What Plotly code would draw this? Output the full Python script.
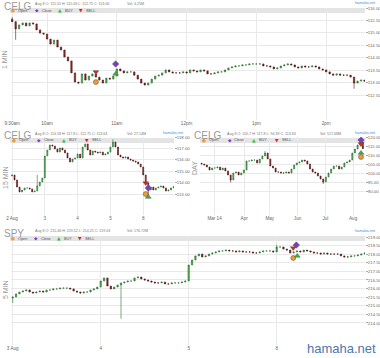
import plotly.graph_objects as go

W, H = 380, 358

# ---------------- Panel 1: CELG 1 MIN (Aug 8), one candle per 3 minutes from 9:30 ----------------
p1_minutes = list(range(0, 306, 3))
p1_close = [115.45, 115.16, 115.32, 115.40, 115.28, 115.40, 115.36, 115.12, 114.99, 114.95,
            114.75, 114.55, 114.71, 114.43, 114.31, 114.03, 113.87, 113.39, 113.02, 112.98,
            113.35, 113.10, 113.26, 113.35, 113.22, 113.10, 112.98, 113.18, 113.14, 113.26,
            113.55, 113.47, 113.39, 113.43, 113.43, 113.30, 113.14, 112.98, 112.90, 112.98,
            113.14, 113.26, 113.30, 113.39, 113.51, 113.43, 113.39, 113.39, 113.39, 113.43,
            113.39, 113.51, 113.47, 113.43, 113.51, 113.47, 113.35, 113.35, 113.39, 113.43,
            113.43, 113.51, 113.59, 113.63, 113.67, 113.67, 113.71, 113.71, 113.75, 113.75,
            113.75, 113.75, 113.67, 113.67, 113.63, 113.55, 113.59, 113.67, 113.71, 113.75,
            113.71, 113.63, 113.59, 113.67, 113.63, 113.63, 113.67, 113.63, 113.55, 113.51,
            113.43, 113.35, 113.30, 113.35, 113.30, 113.30, 113.30, 113.22, 112.98, 113.06,
            113.10, 113.06]
p1_first_open = 115.55
p1_high_marks = {0: 115.63}
p1_low_marks = {1: 114.72, 98: 112.75}
p1_ticks = [0, 30, 90, 150, 210, 270]
p1_ticklabels = ["9:30am", "10am", "11am", "12pm", "1pm", "2pm"]
p1_yticks = [112.5, 113.0, 113.5, 114.0, 114.5, 115.0, 115.5, 116.0]
p1_sig_x = [72, 89, 89, 72]            # Open, Close, BUY, SELL
p1_sig_y = [113.02, 113.75, 113.35, 113.43]

# ---------------- Panel 2: CELG 15 MIN, one candle per 30 minutes, Aug 2 .. Aug 8 ----------------
p2_bars = list(range(65))
p2_close = [114.67, 114.23, 113.61, 113.18, 113.35, 113.53, 113.53, 113.44, 113.18, 113.26,
            113.70, 114.05, 114.40,
            116.33, 116.86, 117.30, 117.21, 116.95, 116.68, 117.04, 116.86, 116.60, 116.16,
            115.81, 116.07, 116.16,
            116.51, 116.16, 117.12, 117.39, 116.86, 116.42, 116.77, 116.68, 116.60, 116.68,
            116.42, 116.51, 116.68,
            117.12, 117.56, 117.12, 116.42, 116.25, 116.16, 116.25, 116.07, 115.98, 115.89,
            115.81, 115.63, 115.37,
            114.67, 113.96, 113.35, 113.61, 113.35, 113.53, 113.61, 113.70, 113.53, 113.26,
            113.35, 113.53, 113.63]
p2_first_open = 114.58
p2_high_marks = {10: 114.67, 40: 117.80}
p2_low_marks = {54: 112.75}
p2_ticks = [0, 13, 26, 39, 52]
p2_ticklabels = ["2 Aug", "3", "4", "5", "8"]
p2_yticks = [113, 114, 115, 116, 117, 118]
p2_sig_x = [53.0, 54.0, 54.0, 53.0]
p2_sig_y = [113.00, 113.53, 112.74, 113.96]

# ---------------- Panel 3: CELG DAY, one candle per 2 sessions ----------------
p3_bars = list(range(62))
p3_close = [105.27, 104.73, 103.63, 102.00, 103.09, 103.09, 103.63, 102.00, 103.09, 101.45,
            99.27, 96.54, 100.36, 100.91, 99.27, 100.36, 102.00, 106.91, 106.91, 107.45,
            107.45, 105.82, 108.00, 109.63, 111.27, 108.00, 104.18, 103.09, 100.91, 100.91,
            100.36, 100.36, 100.91, 100.36, 102.54, 104.73, 105.82, 106.36, 107.45, 106.91,
            105.27, 102.54, 100.91, 100.36, 98.72, 97.09, 95.45, 98.18, 100.36, 102.54,
            104.18, 104.18, 102.54, 103.63, 105.82, 106.36, 107.45, 111.27, 113.45, 115.64,
            117.27, 113.63]
p3_first_open = 105.70
p3_high_marks = {24: 112.4, 60: 117.8}
p3_low_marks = {11: 95.2, 46: 94.39}
p3_ticks = [4.9, 16.1, 25.8, 36.3, 46.8, 57.3]
p3_ticklabels = ["Mar 14", "Apr", "May", "Jun", "Jul", "Aug"]
p3_yticks = [90, 95, 100, 105, 110, 115, 120]
p3_sig_x = [60.3, 60.3, 60.3, 60.3]
p3_sig_y = [109.09, 118.36, 111.27, 116.18]

# ---------------- Panel 4: SPY 5 MIN, one candle per 15 minutes, Aug 3 .. Aug 8 ----------------
p4_bars = list(range(105))
p4_close = [215.51, 215.69, 215.80, 215.86, 215.92, 215.80, 215.74, 215.80, 215.86, 215.80,
            215.92, 215.92, 215.98, 215.98, 216.03, 216.03, 216.03, 215.98, 215.86, 215.80,
            215.74, 215.80, 215.80, 215.92, 215.98, 216.09,
            216.44, 216.62, 216.15, 215.98, 216.09, 216.21, 216.33, 216.38, 216.44, 216.44,
            216.62, 216.67, 216.56, 216.50, 216.44, 216.38, 216.33, 216.33, 216.38, 216.27,
            216.27, 216.33, 216.33, 216.33, 216.38, 216.44,
            217.37, 217.66, 217.90, 218.01, 217.84, 217.90, 218.01, 218.07, 218.13, 218.19,
            218.19, 218.24, 218.19, 218.19, 218.13, 218.19, 218.13, 218.13, 218.13, 218.07,
            218.07, 218.13, 218.19, 218.19, 218.19, 218.13,
            218.42, 218.42, 218.30, 218.24, 218.07, 218.13, 218.19, 218.13, 218.24, 218.19,
            218.13, 218.07, 218.07, 218.01, 218.07, 218.01, 218.01, 218.01, 218.01, 217.90,
            217.84, 217.84, 217.90, 217.90, 217.95, 218.01, 218.07]
p4_first_open = 215.46
p4_high_marks = {78: 218.55}
p4_low_marks = {0: 215.16, 32: 214.25}
p4_ticks = [0, 26, 52, 78]
p4_ticklabels = ["3 Aug", "4", "5", "8"]
p4_yticks = [214.0, 214.5, 215.0, 215.5, 216.0, 216.5, 217.0, 217.5, 218.0, 218.5, 219.0]
p4_sig_x = [82.9, 83.8, 84.1, 82.9]
p4_sig_y = [217.78, 218.53, 217.90, 218.36]

signal_names = ["Open", "Close", "BUY", "SELL"]
signal_symbols = ["circle", "diamond", "triangle-up", "triangle-down"]
signal_colors = ["#f39a2b", "#7d3cc8", "#2fbf2f", "#e3201b"]
signal_glyphs = ["●", "◆", "▲", "▼"]

headers = [
    "Aug 8 O: 115.55 H: 115.63 L: 112.75 C: 113.06",
    "Aug 8 O: 114.58 H: 117.8 L: 112.75 C: 113.63",
    "Aug 8 O: 105.7 H: 117.8 L: 94.39 C: 113.63",
    "Aug 8 O: 215.46 H: 219.52 L: 214.25 C: 219.03",
]
volumes = ["Vol: 4.25M", "Vol: 27.14M", "Vol: 517.68M", "Vol: 176.72M"]
symbols_txt = ["CELG", "CELG", "CELG", "SPY"]
intervals = ["1 MIN", "15 MIN", "DAY", "5 MIN"]


def ohlc(first_open, close, high_marks, low_marks):
    opens = [first_open] + close[:-1]
    highs = [max(o, c) for o, c in zip(opens, close)]
    lows = [min(o, c) for o, c in zip(opens, close)]
    for k, v in high_marks.items():
        highs[k] = max(highs[k], v)
    for k, v in low_marks.items():
        lows[k] = min(lows[k], v)
    return opens, highs, lows, close


def X(px):
    return px / W


def Y(py):
    return 1 - py / H


fig = go.Figure()

panels = [
    dict(x=p1_minutes, c=p1_close, o0=p1_first_open, hm=p1_high_marks, lm=p1_low_marks,
         sx=p1_sig_x, sy=p1_sig_y, ax=""),
    dict(x=p2_bars, c=p2_close, o0=p2_first_open, hm=p2_high_marks, lm=p2_low_marks,
         sx=p2_sig_x, sy=p2_sig_y, ax="2"),
    dict(x=p3_bars, c=p3_close, o0=p3_first_open, hm=p3_high_marks, lm=p3_low_marks,
         sx=p3_sig_x, sy=p3_sig_y, ax="3"),
    dict(x=p4_bars, c=p4_close, o0=p4_first_open, hm=p4_high_marks, lm=p4_low_marks,
         sx=p4_sig_x, sy=p4_sig_y, ax="4"),
]

for p in panels:
    o, h, l, c = ohlc(p["o0"], p["c"], p["hm"], p["lm"])
    fig.add_trace(go.Candlestick(
        x=p["x"], open=o, high=h, low=l, close=c,
        xaxis="x" + p["ax"], yaxis="y" + p["ax"],
        increasing=dict(line=dict(color="#2d6e30", width=0.6), fillcolor="#52b455"),
        decreasing=dict(line=dict(color="#4a1212", width=0.6), fillcolor="#9c2a2a"),
        showlegend=False, hoverinfo="skip"))
    for i in range(4):
        fig.add_trace(go.Scatter(
            x=[p["sx"][i]], y=[p["sy"][i]], mode="markers",
            xaxis="x" + p["ax"], yaxis="y" + p["ax"],
            marker=dict(symbol=signal_symbols[i], size=5, color=signal_colors[i],
                        line=dict(width=0.5, color="#555")),
            showlegend=False, hoverinfo="skip"))

# ---------------- geometry (pixels) ----------------
geo = [
    dict(x0=11, x1=365, yt=8, yb=120, rx=[-1, 303.4], ry=[111.495, 116.0],
         tv=p1_ticks, tt=p1_ticklabels, yv=p1_yticks),
    dict(x0=11, x1=174, yt=137, yb=215, rx=[-0.4, 64.2], ry=[111.158, 118.0],
         tv=p2_ticks, tt=p2_ticklabels, yv=p2_yticks),
    dict(x0=200, x1=365, yt=137, yb=215, rx=[-0.6, 61.8], ry=[77.44, 120.0],
         tv=p3_ticks, tt=p3_ticklabels, yv=p3_yticks),
    dict(x0=11, x1=365, yt=237, yb=345, rx=[-0.5, 104.1], ry=[212.72, 219.0],
         tv=p4_ticks, tt=p4_ticklabels, yv=p4_yticks),
]

FONT = "Liberation Sans, Arial, sans-serif"
layout = dict(
    width=W, height=H, margin=dict(l=0, r=0, t=0, b=0, autoexpand=False),
    paper_bgcolor="white", plot_bgcolor="white",
    font=dict(family=FONT, color="#666", size=5),
    showlegend=False, boxgap=0.45,
)

for k, g in enumerate(geo):
    sfx = "" if k == 0 else str(k + 1)
    layout["xaxis" + sfx] = dict(
        domain=[X(g["x0"]), X(g["x1"])], range=g["rx"], anchor="y" + sfx,
        tickmode="array", tickvals=g["tv"], ticktext=g["tt"], automargin=False,
        showgrid=True, gridcolor="#e9e9e9", gridwidth=1, zeroline=False,
        showline=False, ticks="", tickfont=dict(size=4.6, color="#666"),
        ticklabelstandoff=-1,
        rangeslider=dict(visible=False), fixedrange=True)
    layout["yaxis" + sfx] = dict(
        domain=[Y(g["yb"]), Y(g["yt"])], range=g["ry"], anchor="x" + sfx, side="right",
        tickmode="array", tickvals=g["yv"], tickformat=".2f", automargin=False,
        showgrid=True, gridcolor="#e9e9e9", gridwidth=1, zeroline=False,
        showline=False, ticks="outside", ticklen=2, tickcolor="#aaa",
        ticklabelstandoff=-1,
        tickfont=dict(size=4.3, color="#666"), fixedrange=True)

shapes = []
annotations = []

bands = [
    dict(x0=10, x1=365, y0=8, y1=13, title=(2, 6.5), head=(33, 4), vol=125, logo=(378, 3),
         leg_x=[13, 37, 60, 81], leg_y=10.5, ytitle=(5, 60)),
    dict(x0=10, x1=174, y0=138, y1=143, title=(2, 135.5), head=(33, 134), vol=125, logo=(186, 133),
         leg_x=[14, 39, 64, 87], leg_y=140.5, ytitle=(5, 178)),
    dict(x0=200, x1=365, y0=138, y1=143, title=(192, 135.5), head=(225, 134), vol=318, logo=(378, 133),
         leg_x=[204, 230, 254, 277], leg_y=140.5, ytitle=(195, 168)),
    dict(x0=10, x1=365, y0=236, y1=241, title=(2, 233.5), head=(33, 231), vol=125, logo=(378, 231),
         leg_x=[13, 36, 59, 80], leg_y=238.5, ytitle=(5, 290)),
]

for k, b in enumerate(bands):
    shapes.append(dict(type="rect", xref="paper", yref="paper",
                       x0=X(b["x0"]), x1=X(b["x1"]), y0=Y(b["y1"]), y1=Y(b["y0"]),
                       fillcolor="#e4e4e4", line=dict(width=0), layer="below"))
    annotations.append(dict(text=symbols_txt[k], x=X(b["title"][0]), y=Y(b["title"][1]),
                            xref="paper", yref="paper", xanchor="left", yanchor="middle",
                            showarrow=False, font=dict(size=10, color="#9a9a9a", family=FONT)))
    annotations.append(dict(text=headers[k], x=X(b["head"][0]), y=Y(b["head"][1]),
                            xref="paper", yref="paper", xanchor="left", yanchor="middle",
                            showarrow=False, font=dict(size=3.6, color="#777", family=FONT)))
    annotations.append(dict(text=volumes[k], x=X(b["vol"]), y=Y(b["head"][1]),
                            xref="paper", yref="paper", xanchor="left", yanchor="middle",
                            showarrow=False, font=dict(size=3.6, color="#777", family=FONT)))
    annotations.append(dict(text="hamaha.net", x=X(b["logo"][0]), y=Y(b["logo"][1]),
                            xref="paper", yref="paper", xanchor="right", yanchor="middle",
                            showarrow=False, font=dict(size=3.8, color="#3a8de0", family=FONT)))
    annotations.append(dict(text=intervals[k], x=X(b["ytitle"][0]), y=Y(b["ytitle"][1]),
                            xref="paper", yref="paper", xanchor="center", yanchor="middle",
                            textangle=-90, showarrow=False,
                            font=dict(size=7, color="#999", family=FONT)))
    for i in range(4):
        annotations.append(dict(text=signal_glyphs[i], x=X(b["leg_x"][i]), y=Y(b["leg_y"]),
                                xref="paper", yref="paper", xanchor="center", yanchor="middle",
                                showarrow=False,
                                font=dict(size=4.5, color=signal_colors[i], family="DejaVu Sans")))
        annotations.append(dict(text=signal_names[i], x=X(b["leg_x"][i] + 2.5), y=Y(b["leg_y"]),
                                xref="paper", yref="paper", xanchor="left", yanchor="middle",
                                showarrow=False, font=dict(size=3.8, color="#555", family=FONT)))

annotations.append(dict(text="hamaha.net", x=X(378), y=Y(348), xref="paper", yref="paper",
                        xanchor="right", yanchor="middle", showarrow=False,
                        font=dict(size=13, color="#4a78b0", family=FONT)))

layout["shapes"] = shapes
layout["annotations"] = annotations
fig.update_layout(**layout)
fig.write_html(
    "out.html",
    config={"displayModeBar": False, "staticPlot": True},
    post_script="document.body.style.margin='0px';document.body.style.padding='0px';"
                "document.body.style.overflow='hidden';",
)
